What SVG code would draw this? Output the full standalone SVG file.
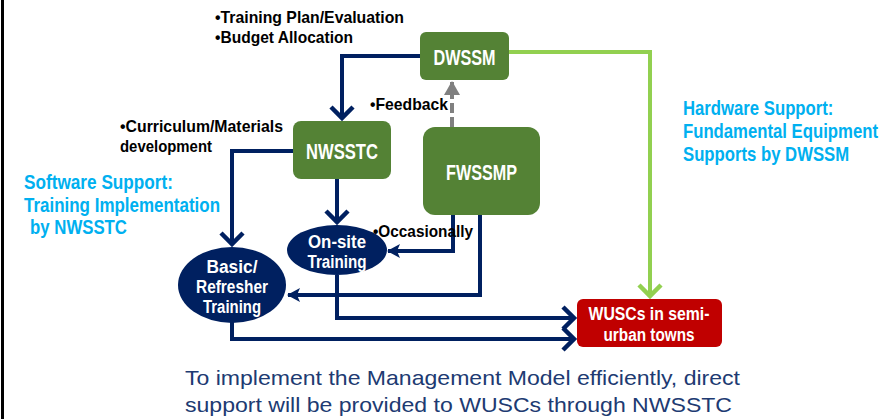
<svg xmlns="http://www.w3.org/2000/svg" width="893" height="419" viewBox="0 0 893 419">
<style>
.lbl{font-family:"Liberation Sans",Arial,sans-serif;font-weight:bold;font-size:17px;fill:#000}
.blue{font-family:"Liberation Sans",Arial,sans-serif;font-weight:bold;font-size:20px;fill:#00B0F0}
.box{fill:#548235}
.bt{font-family:"Liberation Sans",Arial,sans-serif;font-weight:bold;font-size:22px;fill:#fff;text-anchor:middle}
.et{font-family:"Liberation Sans",Arial,sans-serif;font-weight:bold;font-size:18px;fill:#fff;text-anchor:middle}
.ell{fill:#002060}
.nav{fill:none;stroke:#002060;stroke-width:4}
.grn{fill:none;stroke:#92D050;stroke-width:4}
.foot{font-family:"Liberation Sans",Arial,sans-serif;font-size:21px;fill:#203A72}
</style>
<defs>
<marker id="chev" markerUnits="userSpaceOnUse" markerWidth="30" markerHeight="30" viewBox="0 0 30 30" refX="22" refY="15" orient="auto">
<path d="M10,4 L21,15 L10,26" fill="none" stroke="#002060" stroke-width="4.5"/>
</marker>
<marker id="chevg" markerUnits="userSpaceOnUse" markerWidth="30" markerHeight="30" viewBox="0 0 30 30" refX="22" refY="15" orient="auto">
<path d="M10,4 L21,15 L10,26" fill="none" stroke="#92D050" stroke-width="4.5"/>
</marker>
<marker id="stealth" markerUnits="userSpaceOnUse" markerWidth="16" markerHeight="16" viewBox="0 0 16 16" refX="14" refY="8" orient="auto">
<path d="M2,1 L15,8 L2,15 L5,8 Z" fill="#002060"/>
</marker>
<marker id="tri" markerUnits="userSpaceOnUse" markerWidth="16" markerHeight="16" viewBox="0 0 16 16" refX="14" refY="8" orient="auto">
<path d="M1,0 L15,8 L1,16 Z" fill="#808080"/>
</marker>
</defs>
<rect width="893" height="419" fill="#fff"/>
<line x1="2.5" y1="0" x2="2.5" y2="419" stroke="#000" stroke-width="3"/>

<g id="connectors">
<polyline class="nav" points="420,56 342,56 342,119" marker-end="url(#chev)"/>
<polyline class="nav" points="293,151 232,151 232,245" marker-end="url(#chev)"/>
<polyline class="nav" points="337,179 337,223" marker-end="url(#chev)"/>
<polyline class="grn" points="509,52 650,52 650,297" marker-end="url(#chevg)"/>
<line x1="452" y1="127" x2="452" y2="82" stroke="#808080" stroke-width="4" stroke-dasharray="10,4" marker-end="url(#tri)"/>
<polyline class="nav" points="453,212 453,251 388,251" marker-end="url(#stealth)"/>
<polyline class="nav" points="480,212 480,295 288,295" marker-end="url(#stealth)"/>
<polyline class="nav" points="337,275 337,318 575,318" marker-end="url(#chev)"/>
<polyline class="nav" points="232,322 232,339 575,339" marker-end="url(#chev)"/>
</g>

<g id="dwssm">
<rect class="box" x="420" y="32" width="89" height="48" rx="6"/>
<text class="bt" x="464.5" y="65" textLength="62" lengthAdjust="spacingAndGlyphs">DWSSM</text>
</g>
<g id="nwsstc">
<rect class="box" x="293" y="121" width="98" height="58" rx="8"/>
<text class="bt" x="342" y="159" textLength="72" lengthAdjust="spacingAndGlyphs">NWSSTC</text>
</g>
<g id="fwssmp">
<rect class="box" x="423" y="127" width="117" height="88" rx="12"/>
<text class="bt" x="481.5" y="180" textLength="71" lengthAdjust="spacingAndGlyphs">FWSSMP</text>
</g>
<g id="onsite">
<ellipse class="ell" cx="337" cy="250" rx="50" ry="25"/>
<text class="et" x="337" y="248" textLength="58" lengthAdjust="spacingAndGlyphs">On-site</text>
<text class="et" x="337" y="268" textLength="59" lengthAdjust="spacingAndGlyphs">Training</text>
</g>
<g id="basic">
<ellipse class="ell" cx="232" cy="285" rx="54" ry="38"/>
<text class="et" x="232" y="273" textLength="51" lengthAdjust="spacingAndGlyphs">Basic/</text>
<text class="et" x="232" y="293" textLength="72" lengthAdjust="spacingAndGlyphs">Refresher</text>
<text class="et" x="232" y="313" textLength="58" lengthAdjust="spacingAndGlyphs">Training</text>
</g>
<g id="wuscs">
<rect x="577" y="299" width="145" height="48" rx="6" fill="#C00000"/>
<text class="et" x="649" y="320" textLength="121" lengthAdjust="spacingAndGlyphs">WUSCs in semi-</text>
<text class="et" x="649" y="341" textLength="91" lengthAdjust="spacingAndGlyphs">urban towns</text>
</g>

<g id="labels">
<text class="lbl" x="215" y="23" textLength="189" lengthAdjust="spacingAndGlyphs">•Training Plan/Evaluation</text>
<text class="lbl" x="215" y="43" textLength="138" lengthAdjust="spacingAndGlyphs">•Budget Allocation</text>
<text class="lbl" x="370" y="110" textLength="78" lengthAdjust="spacingAndGlyphs">•Feedback</text>
<text class="lbl" x="120" y="132" textLength="163" lengthAdjust="spacingAndGlyphs">•Curriculum/Materials</text>
<text class="lbl" x="120" y="152" textLength="92" lengthAdjust="spacingAndGlyphs">development</text>
<text class="lbl" x="373" y="237" textLength="100" lengthAdjust="spacingAndGlyphs">•Occasionally</text>
<text class="blue" x="24" y="189" textLength="149" lengthAdjust="spacingAndGlyphs">Software Support:</text>
<text class="blue" x="24" y="211.5" textLength="196" lengthAdjust="spacingAndGlyphs">Training Implementation</text>
<text class="blue" x="30" y="234" textLength="97" lengthAdjust="spacingAndGlyphs">by NWSSTC</text>
<g transform="translate(683,0) scale(0.836,1)">
<text class="blue" x="0" y="115">Hardware Support:</text>
<text class="blue" x="0" y="138">Fundamental Equipment</text>
<text class="blue" x="0" y="161">Supports by DWSSM</text>
</g>
<text class="foot" x="185" y="385" textLength="555" lengthAdjust="spacingAndGlyphs">To implement the Management Model efficiently, direct</text>
<text class="foot" x="185" y="412" textLength="547" lengthAdjust="spacingAndGlyphs">support will be provided to WUSCs through NWSSTC</text>
</g>
</svg>
